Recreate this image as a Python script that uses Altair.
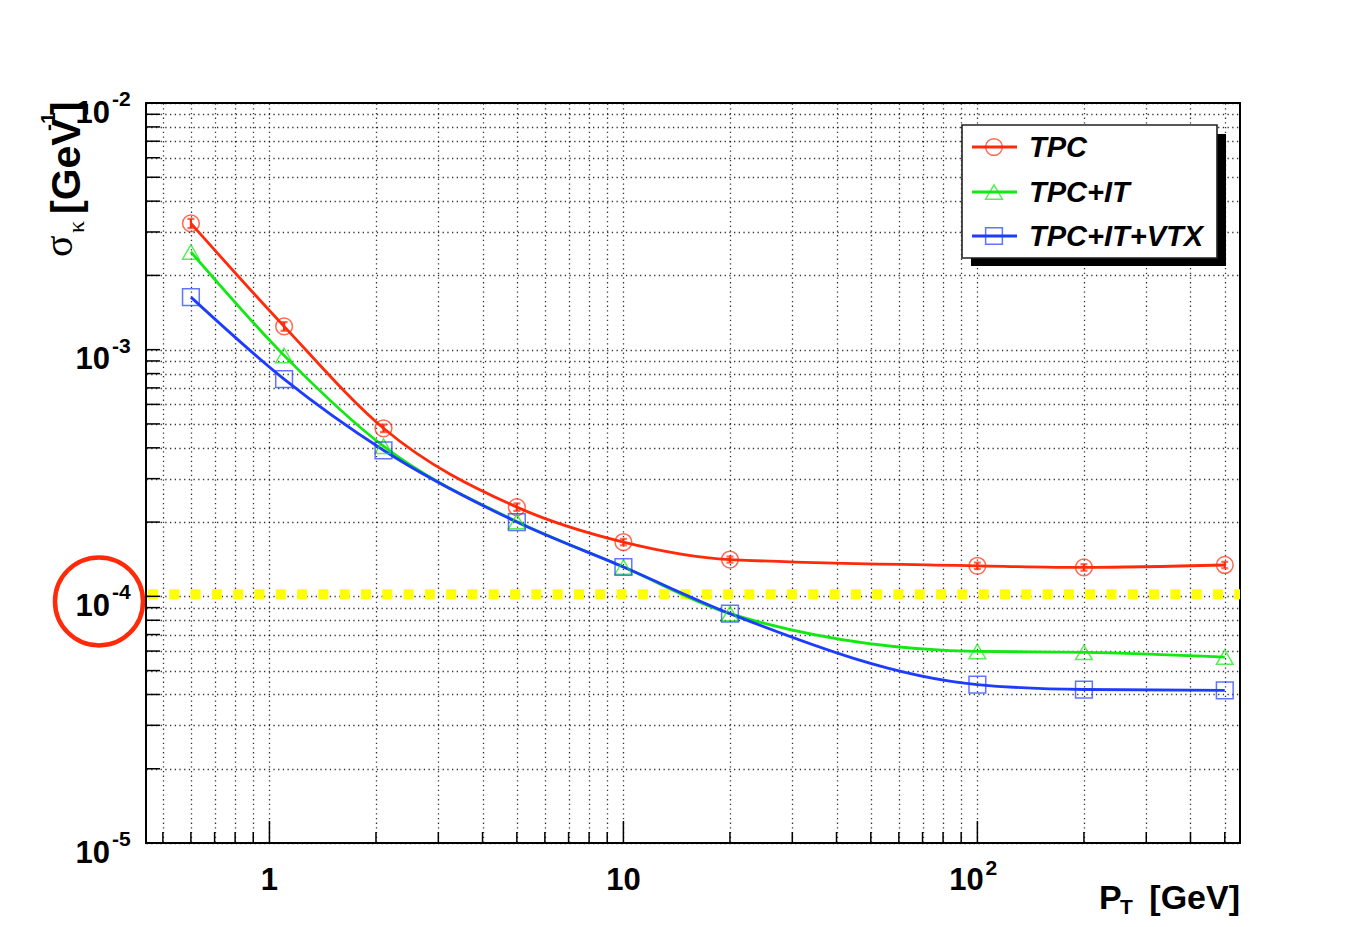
import altair as alt
import pandas as pd

# ---------------- data ----------------
pt = [0.6, 1.1, 2.1, 5, 10, 20, 100, 200, 500]
tpc = [3.25e-3, 1.243e-3, 4.80e-4, 2.30e-4, 1.66e-4, 1.41e-4, 1.33e-4, 1.31e-4, 1.34e-4]
tpc_err = [1.4e-4, 5.0e-5, 1.7e-5, 8e-6, 5e-6, 4e-6, 4e-6, 4e-6, 4e-6]
tpc_it = [2.49e-3, 9.48e-4, 4.06e-4, 2.01e-4, 1.315e-4, 8.51e-5, 5.98e-5, 5.93e-5, 5.67e-5]
tpc_it_vtx = [1.633e-3, 7.59e-4, 3.91e-4, 2.00e-4, 1.315e-4, 8.51e-5, 4.39e-5, 4.19e-5, 4.16e-5]
series = ["TPC", "TPC+IT", "TPC+IT+VTX"]
colors = ["#ff2a0a", "#12e812", "#1e3cff"]
shapes = ["circle", "triangle-up", "square"]
limit = [1.02e-4]
highlight = [9.54e-5]

x_major = [1, 10, 100]
x_major_text = ["1", "10", "10"]
x_minor = [0.5, 0.6, 0.7, 0.8, 0.9, 2, 3, 4, 5, 6, 7, 8, 9,
           20, 30, 40, 50, 60, 70, 80, 90, 200, 300, 400, 500]
y_major = [1e-5, 1e-4, 1e-3, 1e-2]
y_major_sup = ["-5", "-4", "-3", "-2"]
y_minor = [k * 10.0 ** e for e in (-5, -4, -3) for k in range(2, 10)]

W, H = 1094, 740
FONT = "Liberation Sans"

# ---------------- scales / axes ----------------
xs = alt.Scale(type="log", domain=[0.448, 552], nice=False)
ys = alt.Scale(type="log", domain=[1e-5, 1e-2], nice=False)
grid_style = dict(grid=True, labels=False, ticks=False, domain=False, title=None,
                  gridDash=[1.3, 3.4], gridColor="#000", gridWidth=1.3, gridOpacity=0.8)
xax = alt.Axis(values=x_major + x_minor, **grid_style)
yax = alt.Axis(values=y_major + y_minor, **grid_style)


def X(f):
    return alt.X(f, type="quantitative", scale=xs, axis=xax)


def Y(f):
    return alt.Y(f, type="quantitative", scale=ys, axis=yax)


rows = []
for name, vals in zip(series, [tpc, tpc_it, tpc_it_vtx]):
    for p, v in zip(pt, vals):
        rows.append({"pt": p, "val": v, "series": name})
df = pd.DataFrame(rows)
err_df = pd.DataFrame({"pt": pt, "lo": [v - e for v, e in zip(tpc, tpc_err)],
                       "hi": [v + e for v, e in zip(tpc, tpc_err)]})

color_enc = alt.Color("series:N", scale=alt.Scale(domain=series, range=colors), legend=None)
shape_enc = alt.Shape("series:N", scale=alt.Scale(domain=series, range=shapes), legend=None)

layers = []

# yellow dotted limit line
layers.append(alt.Chart(pd.DataFrame({"y": limit})).mark_rule(
    color="#ffff00", strokeWidth=10, strokeDash=[10, 11.3]).encode(
    y=Y("y"), x=alt.value(2), x2=alt.value(W)))

# curves
layers.append(alt.Chart(df).mark_line(interpolate="monotone", strokeWidth=2.8).encode(
    x=X("pt"), y=Y("val"), color=color_enc, detail="series:N"))

# markers
layers.append(alt.Chart(df).mark_point(filled=False, size=280, strokeWidth=1.5).encode(
    x=X("pt"), y=Y("val"), color=color_enc, shape=shape_enc))

# TPC error bars
layers.append(alt.Chart(err_df).mark_rule(color=colors[0], strokeWidth=2.2).encode(
    x=X("pt"), y=Y("lo"), y2="hi"))
for fld in ["lo", "hi"]:
    layers.append(alt.Chart(err_df).mark_tick(color=colors[0], orient="horizontal",
                                              size=7, thickness=2.2).encode(
        x=X("pt"), y=Y(fld)))

# inward ticks
layers.append(alt.Chart(pd.DataFrame({"t": x_minor})).mark_rule(color="#000", strokeWidth=1.5).encode(
    x=X("t"), y=alt.value(H), y2=alt.value(H - 11)))
layers.append(alt.Chart(pd.DataFrame({"t": x_major})).mark_rule(color="#000", strokeWidth=1.5).encode(
    x=X("t"), y=alt.value(H), y2=alt.value(H - 22)))
layers.append(alt.Chart(pd.DataFrame({"t": y_minor + y_major})).mark_rule(color="#000", strokeWidth=1.5).encode(
    y=Y("t"), x=alt.value(0), x2=alt.value(14)))

# x tick labels
xl = pd.DataFrame({"t": x_major, "txt": x_major_text})
layers.append(alt.Chart(xl[xl.t < 100]).mark_text(
    font=FONT, fontWeight="bold", fontSize=31, align="center", baseline="alphabetic").encode(
    x=X("t"), y=alt.value(H + 47), text="txt:N"))
layers.append(alt.Chart(xl[xl.t >= 100]).mark_text(
    font=FONT, fontWeight="bold", fontSize=31, align="center", baseline="alphabetic", dx=-11).encode(
    x=X("t"), y=alt.value(H + 47), text="txt:N"))
layers.append(alt.Chart(pd.DataFrame({"t": [100], "txt": ["2"]})).mark_text(
    font=FONT, fontWeight="bold", fontSize=21, align="left", baseline="alphabetic", dx=8).encode(
    x=X("t"), y=alt.value(H + 32), text="txt:N"))

# y tick labels
yl = pd.DataFrame({"t": y_major, "base": ["10"] * 4, "sup": y_major_sup})
layers.append(alt.Chart(yl).mark_text(
    font=FONT, fontWeight="bold", fontSize=31, align="right", baseline="alphabetic", dy=19.5).encode(
    y=Y("t"), x=alt.value(-36), text="base:N"))
layers.append(alt.Chart(yl).mark_text(
    font=FONT, fontWeight="bold", fontSize=21, align="left", baseline="alphabetic", dy=3).encode(
    y=Y("t"), x=alt.value(-34), text="sup:N"))


# axis titles
def txt(s, x, y, size, weight="bold", align="left", angle=0, font=FONT):
    return alt.Chart(pd.DataFrame({"s": [s]})).mark_text(
        font=font, fontWeight=weight, fontSize=size, align=align,
        baseline="alphabetic", angle=angle, color="#000").encode(
        x=alt.value(x), y=alt.value(y), text="s:N")


layers.append(txt("P", 953, 806, 34))
layers.append(txt("T", 974, 811, 21))
layers.append(txt("[GeV]", W, 806, 34, align="right"))

layers.append(txt("σ", -74, 154, 40, weight="normal", angle=270, font="Liberation Serif"))
layers.append(txt("κ", -62, 130, 24, weight="normal", angle=270, font="Liberation Serif"))
layers.append(txt("[GeV", -66, 111, 41, angle=270))
layers.append(txt("-1", -91, 28, 21, angle=270))
layers.append(txt("]", -66, 12, 41, angle=270))

# legend box with shadow
box = pd.DataFrame({"a": [0]})
layers.append(alt.Chart(box).mark_rect(color="#000").encode(
    x=alt.value(825), x2=alt.value(1080), y=alt.value(31), y2=alt.value(163)))
layers.append(alt.Chart(box).mark_rect(fill="#fff", stroke="#222", strokeWidth=1.6).encode(
    x=alt.value(816), x2=alt.value(1071), y=alt.value(22), y2=alt.value(155)))
leg_y = [44, 89, 133]
for name, col, shp, ly in zip(series, colors, shapes, leg_y):
    d = pd.DataFrame({"name": [name]})
    layers.append(alt.Chart(d).mark_rule(color=col, strokeWidth=2.8).encode(
        x=alt.value(826), x2=alt.value(871), y=alt.value(ly)))
    layers.append(alt.Chart(d).mark_point(shape=shp, filled=False, size=280, strokeWidth=1.5,
                                          color=col).encode(
        x=alt.value(848), y=alt.value(ly)))
    layers.append(alt.Chart(d).mark_text(
        font=FONT, fontWeight="bold", fontStyle="italic", fontSize=29, align="left",
        baseline="alphabetic", dy=10, color="#000").encode(
        x=alt.value(883), y=alt.value(ly), text="name:N"))

# red highlight circle around 10^-4 label
layers.append(alt.Chart(pd.DataFrame({"v": highlight})).mark_point(
    shape="circle", filled=False, size=7744, strokeWidth=4.5, color="#ff2a0a", opacity=1).encode(
    y=Y("v"), x=alt.value(-47)))

chart = alt.layer(*layers).properties(
    width=W, height=H,
    padding={"left": 138, "top": 95, "right": 108, "bottom": 76},
    autosize=alt.AutoSizeParams(type="none"),
    background="#ffffff",
).configure_view(stroke="#000", strokeWidth=2)

chart.save("out.html", embed_options={"renderer": "svg", "actions": False})
